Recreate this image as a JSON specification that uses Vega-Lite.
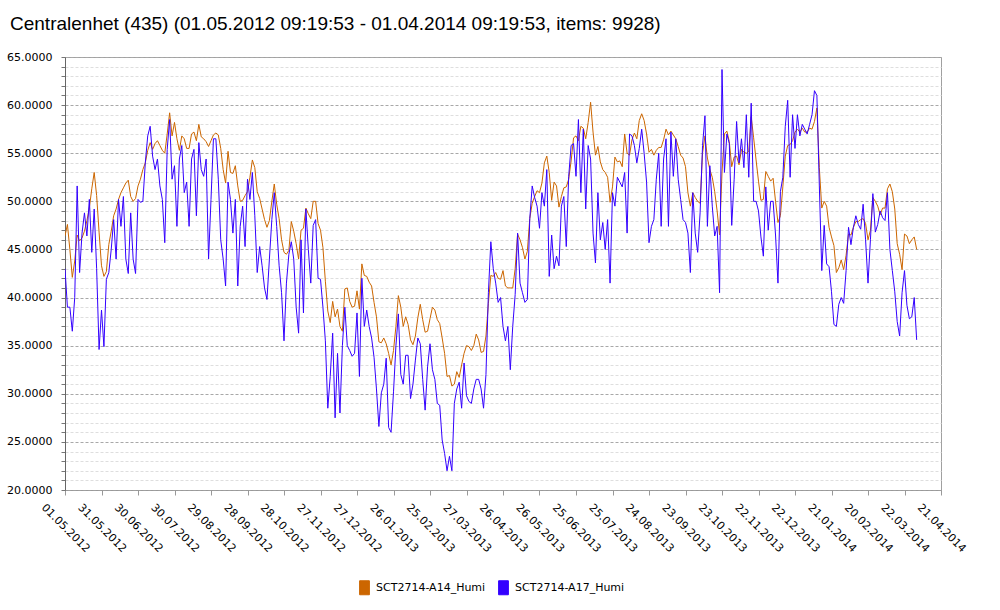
{
"$schema": "https://vega.github.io/schema/vega-lite/v6.json",
"width": 876, "height": 433,
"autosize": {"type": "none"},
"padding": {"left": 65, "top": 57, "right": 59, "bottom": 120},
"background": "#ffffff",
"title": {"text": "Centralenhet (435) (01.05.2012 09:19:53 - 01.04.2014 09:19:53, items: 9928)", "anchor": "start", "frame": "group", "font": "Liberation Sans", "fontSize": 19, "fontWeight": "normal", "color": "#000000", "dx": -55, "dy": 20, "offset": 22, "baseline": "alphabetic"},
"config": {"view": {"stroke": "#a0a0a0"}, "axis": {"labelFont": "DejaVu Sans", "labelFontSize": 11, "labelColor": "#000000"}},
"data": {"values": [
{"t":"2012-05-01","a":46.4,"b":43.0},{"t":"2012-05-03","a":47.6,"b":39.0},{"t":"2012-05-05","a":45.0,"b":39.0},{"t":"2012-05-07","a":42.1,"b":36.5},{"t":"2012-05-09","a":43.8,"b":40.0},{"t":"2012-05-11","a":46.5,"b":51.6},{"t":"2012-05-13","a":45.9,"b":42.6},{"t":"2012-05-15","a":46.2,"b":46.7},{"t":"2012-05-17","a":46.9,"b":48.8},{"t":"2012-05-19","a":48.0,"b":46.4},{"t":"2012-05-21","a":49.3,"b":50.2},{"t":"2012-05-23","a":51.3,"b":44.7},{"t":"2012-05-25","a":53.0,"b":49.2},{"t":"2012-05-27","a":50.6,"b":43.0},{"t":"2012-05-29","a":46.8,"b":34.6},{"t":"2012-05-31","a":43.3,"b":38.7},
{"t":"2012-06-02","a":42.2,"b":34.9},{"t":"2012-06-04","a":42.7,"b":41.9},{"t":"2012-06-06","a":45.5,"b":42.6},{"t":"2012-06-08","a":46.9,"b":45.0},{"t":"2012-06-10","a":48.5,"b":48.1},{"t":"2012-06-12","a":49.2,"b":44.0},{"t":"2012-06-14","a":50.2,"b":50.2},{"t":"2012-06-16","a":50.9,"b":47.4},{"t":"2012-06-18","a":51.4,"b":50.5},{"t":"2012-06-20","a":51.9,"b":44.0},{"t":"2012-06-22","a":52.2,"b":42.5},{"t":"2012-06-24","a":50.5,"b":48.8},{"t":"2012-06-26","a":50.0,"b":44.0},{"t":"2012-06-28","a":50.3,"b":42.5},{"t":"2012-06-30","a":51.6,"b":50.2},
{"t":"2012-07-02","a":52.3,"b":49.9},{"t":"2012-07-04","a":53.3,"b":50.0},{"t":"2012-07-06","a":54.0,"b":54.0},{"t":"2012-07-08","a":55.3,"b":56.8},{"t":"2012-07-10","a":56.1,"b":57.8},{"t":"2012-07-12","a":55.4,"b":54.7},{"t":"2012-07-14","a":56.0,"b":53.3},{"t":"2012-07-16","a":56.3,"b":54.4},{"t":"2012-07-18","a":55.8,"b":51.6},{"t":"2012-07-20","a":55.3,"b":50.2},{"t":"2012-07-22","a":55.0,"b":45.7},{"t":"2012-07-24","a":57.0,"b":55.4},{"t":"2012-07-26","a":59.2,"b":58.5},{"t":"2012-07-28","a":56.8,"b":52.3},{"t":"2012-07-30","a":58.2,"b":53.7},
{"t":"2012-08-01","a":56.5,"b":47.4},{"t":"2012-08-03","a":55.3,"b":54.4},{"t":"2012-08-05","a":56.8,"b":55.8},{"t":"2012-08-07","a":56.5,"b":50.9},{"t":"2012-08-09","a":55.5,"b":52.0},{"t":"2012-08-11","a":55.5,"b":47.4},{"t":"2012-08-13","a":57.0,"b":54.4},{"t":"2012-08-15","a":57.2,"b":55.4},{"t":"2012-08-17","a":56.3,"b":48.5},{"t":"2012-08-19","a":58.0,"b":56.1},{"t":"2012-08-21","a":56.7,"b":53.3},{"t":"2012-08-23","a":56.5,"b":52.6},{"t":"2012-08-25","a":56.2,"b":54.4},{"t":"2012-08-27","a":55.7,"b":44.0},{"t":"2012-08-29","a":56.3,"b":50.2},{"t":"2012-08-31","a":56.9,"b":56.5},
{"t":"2012-09-02","a":57.1,"b":56.5},{"t":"2012-09-04","a":56.9,"b":52.3},{"t":"2012-09-06","a":55.5,"b":46.0},{"t":"2012-09-08","a":53.3,"b":44.0},{"t":"2012-09-10","a":51.9,"b":41.2},{"t":"2012-09-12","a":55.2,"b":52.0},{"t":"2012-09-14","a":53.0,"b":50.2},{"t":"2012-09-16","a":52.9,"b":46.7},{"t":"2012-09-18","a":53.7,"b":50.2},{"t":"2012-09-20","a":51.6,"b":41.2},{"t":"2012-09-22","a":50.0,"b":47.4},{"t":"2012-09-24","a":50.1,"b":49.5},{"t":"2012-09-26","a":50.6,"b":45.3},{"t":"2012-09-28","a":51.0,"b":52.3},{"t":"2012-09-30","a":52.5,"b":50.2},
{"t":"2012-10-02","a":54.3,"b":53.0},{"t":"2012-10-04","a":53.5,"b":48.5},{"t":"2012-10-06","a":51.0,"b":42.6},{"t":"2012-10-08","a":50.3,"b":45.3},{"t":"2012-10-10","a":49.2,"b":43.3},{"t":"2012-10-12","a":48.1,"b":41.0},{"t":"2012-10-14","a":47.3,"b":39.8},{"t":"2012-10-16","a":48.0,"b":44.0},{"t":"2012-10-18","a":50.0,"b":48.1},{"t":"2012-10-20","a":51.8,"b":50.9},{"t":"2012-10-22","a":49.7,"b":47.4},{"t":"2012-10-24","a":48.2,"b":43.3},{"t":"2012-10-26","a":46.0,"b":40.5},{"t":"2012-10-28","a":44.7,"b":35.5},{"t":"2012-10-30","a":44.5,"b":41.5},
{"t":"2012-11-01","a":44.9,"b":44.5},{"t":"2012-11-03","a":47.9,"b":45.8},{"t":"2012-11-05","a":46.9,"b":44.0},{"t":"2012-11-07","a":45.6,"b":39.0},{"t":"2012-11-09","a":44.0,"b":36.3},{"t":"2012-11-11","a":47.0,"b":46.0},{"t":"2012-11-13","a":47.2,"b":38.4},{"t":"2012-11-15","a":49.3,"b":49.2},{"t":"2012-11-17","a":48.7,"b":45.0},{"t":"2012-11-19","a":48.2,"b":41.5},{"t":"2012-11-21","a":50.0,"b":47.5},{"t":"2012-11-23","a":50.0,"b":48.1},{"t":"2012-11-25","a":47.7,"b":42.0},{"t":"2012-11-27","a":47.0,"b":41.9},{"t":"2012-11-29","a":45.2,"b":39.0},
{"t":"2012-12-01","a":41.7,"b":35.5},{"t":"2012-12-03","a":38.6,"b":28.5},{"t":"2012-12-05","a":37.4,"b":31.8},{"t":"2012-12-07","a":39.6,"b":36.3},{"t":"2012-12-09","a":38.0,"b":27.5},{"t":"2012-12-11","a":38.8,"b":34.2},{"t":"2012-12-13","a":37.0,"b":28.0},{"t":"2012-12-15","a":36.5,"b":35.0},{"t":"2012-12-17","a":40.9,"b":39.0},{"t":"2012-12-19","a":41.0,"b":35.0},{"t":"2012-12-21","a":39.6,"b":34.5},{"t":"2012-12-23","a":39.0,"b":33.9},{"t":"2012-12-25","a":39.1,"b":34.2},{"t":"2012-12-27","a":40.7,"b":38.4},{"t":"2012-12-29","a":38.8,"b":31.8},{"t":"2012-12-31","a":43.5,"b":42.0},
{"t":"2013-01-02","a":42.3,"b":37.0},{"t":"2013-01-04","a":42.2,"b":38.7},{"t":"2013-01-06","a":41.6,"b":37.0},{"t":"2013-01-08","a":41.2,"b":35.8},{"t":"2013-01-10","a":39.5,"b":33.8},{"t":"2013-01-12","a":38.0,"b":30.5},{"t":"2013-01-14","a":35.4,"b":26.6},{"t":"2013-01-16","a":35.3,"b":30.1},{"t":"2013-01-18","a":35.8,"b":31.0},{"t":"2013-01-20","a":35.2,"b":33.7},{"t":"2013-01-22","a":34.2,"b":26.5},{"t":"2013-01-24","a":33.0,"b":26.0},{"t":"2013-01-26","a":34.5,"b":30.2},{"t":"2013-01-28","a":37.0,"b":35.0},{"t":"2013-01-30","a":40.2,"b":38.3},
{"t":"2013-02-01","a":39.0,"b":32.0},{"t":"2013-02-03","a":37.0,"b":31.0},{"t":"2013-02-05","a":38.0,"b":34.0},{"t":"2013-02-07","a":37.2,"b":34.0},{"t":"2013-02-09","a":35.6,"b":29.5},{"t":"2013-02-11","a":35.1,"b":31.0},{"t":"2013-02-13","a":36.0,"b":33.5},{"t":"2013-02-15","a":37.9,"b":35.8},{"t":"2013-02-17","a":39.3,"b":35.2},{"t":"2013-02-19","a":37.7,"b":31.5},{"t":"2013-02-21","a":36.4,"b":28.3},{"t":"2013-02-23","a":36.5,"b":32.8},{"t":"2013-02-25","a":37.8,"b":35.2},{"t":"2013-02-27","a":39.0,"b":32.5},
{"t":"2013-03-01","a":38.7,"b":31.5},{"t":"2013-03-03","a":37.7,"b":29.0},{"t":"2013-03-05","a":37.3,"b":28.8},{"t":"2013-03-07","a":35.8,"b":25.2},{"t":"2013-03-09","a":34.2,"b":23.8},{"t":"2013-03-11","a":31.8,"b":22.0},{"t":"2013-03-13","a":31.9,"b":23.5},{"t":"2013-03-15","a":30.8,"b":22.0},{"t":"2013-03-17","a":31.0,"b":29.0},{"t":"2013-03-19","a":32.3,"b":30.5},{"t":"2013-03-21","a":31.7,"b":31.2},{"t":"2013-03-23","a":33.0,"b":28.5},{"t":"2013-03-25","a":34.2,"b":33.2},{"t":"2013-03-27","a":35.0,"b":29.8},{"t":"2013-03-29","a":34.9,"b":29.2},{"t":"2013-03-31","a":34.5,"b":29.0},
{"t":"2013-04-02","a":35.0,"b":30.5},{"t":"2013-04-04","a":36.2,"b":31.5},{"t":"2013-04-06","a":35.6,"b":31.5},{"t":"2013-04-08","a":34.3,"b":30.5},{"t":"2013-04-10","a":34.4,"b":28.5},{"t":"2013-04-12","a":36.0,"b":32.0},{"t":"2013-04-14","a":39.4,"b":40.5},{"t":"2013-04-16","a":42.3,"b":45.8},{"t":"2013-04-18","a":42.2,"b":43.0},{"t":"2013-04-20","a":42.6,"b":41.5},{"t":"2013-04-22","a":42.0,"b":39.5},{"t":"2013-04-24","a":41.9,"b":40.0},{"t":"2013-04-26","a":42.8,"b":37.0},{"t":"2013-04-28","a":41.2,"b":35.5},{"t":"2013-04-30","a":41.0,"b":37.0},
{"t":"2013-05-02","a":41.0,"b":32.5},{"t":"2013-05-04","a":41.0,"b":37.0},{"t":"2013-05-06","a":43.0,"b":40.3},{"t":"2013-05-08","a":46.6,"b":46.7},{"t":"2013-05-10","a":46.0,"b":41.5},{"t":"2013-05-12","a":45.2,"b":40.5},{"t":"2013-05-14","a":44.0,"b":39.5},{"t":"2013-05-16","a":44.8,"b":39.8},{"t":"2013-05-18","a":48.2,"b":48.2},{"t":"2013-05-20","a":49.8,"b":51.6},{"t":"2013-05-22","a":50.5,"b":50.4},{"t":"2013-05-24","a":51.1,"b":49.5},{"t":"2013-05-26","a":50.9,"b":47.2},{"t":"2013-05-28","a":51.9,"b":50.9},{"t":"2013-05-30","a":54.0,"b":49.5},
{"t":"2013-06-01","a":54.7,"b":53.3},{"t":"2013-06-03","a":53.0,"b":42.2},{"t":"2013-06-05","a":50.1,"b":46.5},{"t":"2013-06-07","a":52.0,"b":43.0},{"t":"2013-06-09","a":51.6,"b":44.3},{"t":"2013-06-11","a":49.4,"b":43.3},{"t":"2013-06-13","a":50.5,"b":49.5},{"t":"2013-06-15","a":51.4,"b":50.5},{"t":"2013-06-17","a":51.5,"b":45.3},{"t":"2013-06-19","a":52.3,"b":52.6},{"t":"2013-06-21","a":54.2,"b":55.8},{"t":"2013-06-23","a":56.6,"b":56.0},{"t":"2013-06-25","a":56.8,"b":52.6},{"t":"2013-06-27","a":56.3,"b":58.5},{"t":"2013-06-29","a":57.8,"b":50.9},
{"t":"2013-07-01","a":57.6,"b":57.5},{"t":"2013-07-03","a":56.5,"b":49.2},{"t":"2013-07-05","a":58.2,"b":55.8},{"t":"2013-07-07","a":60.3,"b":54.4},{"t":"2013-07-09","a":57.2,"b":46.7},{"t":"2013-07-11","a":54.8,"b":43.6},{"t":"2013-07-13","a":55.7,"b":50.9},{"t":"2013-07-15","a":54.1,"b":46.0},{"t":"2013-07-17","a":53.3,"b":47.8},{"t":"2013-07-19","a":53.0,"b":45.0},{"t":"2013-07-21","a":52.5,"b":48.1},{"t":"2013-07-23","a":49.9,"b":41.5},{"t":"2013-07-25","a":51.5,"b":50.9},{"t":"2013-07-27","a":54.6,"b":49.5},{"t":"2013-07-29","a":54.1,"b":52.5},{"t":"2013-07-31","a":54.2,"b":52.0},
{"t":"2013-08-02","a":53.6,"b":51.5},{"t":"2013-08-04","a":57.0,"b":53.0},{"t":"2013-08-06","a":55.0,"b":46.7},{"t":"2013-08-08","a":54.8,"b":57.0},{"t":"2013-08-10","a":56.4,"b":56.8},{"t":"2013-08-12","a":57.1,"b":55.8},{"t":"2013-08-14","a":56.5,"b":54.0},{"t":"2013-08-16","a":58.4,"b":55.5},{"t":"2013-08-18","a":59.1,"b":57.5},{"t":"2013-08-20","a":58.4,"b":55.0},{"t":"2013-08-22","a":57.0,"b":52.0},{"t":"2013-08-24","a":55.1,"b":45.7},{"t":"2013-08-26","a":55.4,"b":47.4},{"t":"2013-08-28","a":54.8,"b":48.1},{"t":"2013-08-30","a":55.3,"b":52.3},
{"t":"2013-09-01","a":55.6,"b":55.0},{"t":"2013-09-03","a":55.6,"b":47.4},{"t":"2013-09-05","a":56.4,"b":54.4},{"t":"2013-09-07","a":57.5,"b":56.5},{"t":"2013-09-09","a":56.9,"b":47.4},{"t":"2013-09-11","a":57.3,"b":57.2},{"t":"2013-09-13","a":56.9,"b":52.6},{"t":"2013-09-15","a":56.5,"b":56.5},{"t":"2013-09-17","a":55.7,"b":52.3},{"t":"2013-09-19","a":54.8,"b":50.2},{"t":"2013-09-21","a":54.5,"b":48.1},{"t":"2013-09-23","a":53.6,"b":47.8},{"t":"2013-09-25","a":50.9,"b":46.7},{"t":"2013-09-27","a":49.5,"b":42.6},{"t":"2013-09-29","a":50.9,"b":50.9},
{"t":"2013-10-01","a":50.4,"b":46.7},{"t":"2013-10-03","a":50.0,"b":44.7},{"t":"2013-10-05","a":49.8,"b":48.8},{"t":"2013-10-07","a":55.0,"b":55.8},{"t":"2013-10-09","a":56.8,"b":58.9},{"t":"2013-10-11","a":54.5,"b":47.4},{"t":"2013-10-13","a":53.3,"b":53.7},{"t":"2013-10-15","a":52.5,"b":49.5},{"t":"2013-10-17","a":51.0,"b":46.4},{"t":"2013-10-19","a":49.0,"b":47.4},{"t":"2013-10-21","a":46.5,"b":40.5},{"t":"2013-10-23","a":53.0,"b":63.7},{"t":"2013-10-25","a":57.0,"b":53.0},{"t":"2013-10-27","a":57.3,"b":57.0},{"t":"2013-10-29","a":56.2,"b":56.0},{"t":"2013-10-31","a":53.6,"b":47.5},
{"t":"2013-11-02","a":54.6,"b":52.3},{"t":"2013-11-04","a":54.7,"b":58.3},{"t":"2013-11-06","a":53.8,"b":54.0},{"t":"2013-11-08","a":55.4,"b":56.5},{"t":"2013-11-10","a":55.1,"b":53.5},{"t":"2013-11-12","a":55.0,"b":59.0},{"t":"2013-11-14","a":55.2,"b":52.5},{"t":"2013-11-16","a":58.8,"b":60.2},{"t":"2013-11-18","a":56.6,"b":50.0},{"t":"2013-11-20","a":54.3,"b":50.0},{"t":"2013-11-22","a":52.1,"b":49.0},{"t":"2013-11-24","a":50.1,"b":46.3},{"t":"2013-11-26","a":50.2,"b":44.3},{"t":"2013-11-28","a":53.1,"b":51.5},{"t":"2013-11-30","a":52.6,"b":47.0},
{"t":"2013-12-02","a":52.1,"b":50.0},{"t":"2013-12-04","a":52.4,"b":50.0},{"t":"2013-12-06","a":50.0,"b":46.5},{"t":"2013-12-08","a":47.8,"b":41.5},{"t":"2013-12-10","a":48.5,"b":51.0},{"t":"2013-12-12","a":51.5,"b":52.5},{"t":"2013-12-14","a":54.7,"b":57.8},{"t":"2013-12-16","a":55.8,"b":60.5},{"t":"2013-12-18","a":55.9,"b":52.5},{"t":"2013-12-20","a":56.3,"b":59.0},{"t":"2013-12-22","a":57.2,"b":55.5},{"t":"2013-12-24","a":57.5,"b":59.0},{"t":"2013-12-26","a":57.2,"b":56.8},{"t":"2013-12-28","a":57.6,"b":58.0},{"t":"2013-12-30","a":57.2,"b":57.5},
{"t":"2014-01-01","a":57.2,"b":57.0},{"t":"2014-01-03","a":57.6,"b":58.0},{"t":"2014-01-05","a":57.5,"b":59.0},{"t":"2014-01-07","a":58.3,"b":61.5},{"t":"2014-01-09","a":59.7,"b":61.0},{"t":"2014-01-11","a":53.5,"b":51.6},{"t":"2014-01-13","a":49.3,"b":42.8},{"t":"2014-01-15","a":50.0,"b":47.5},{"t":"2014-01-17","a":49.5,"b":43.5},{"t":"2014-01-19","a":47.3,"b":43.2},{"t":"2014-01-21","a":46.3,"b":40.6},{"t":"2014-01-23","a":45.4,"b":37.2},{"t":"2014-01-25","a":42.6,"b":37.0},{"t":"2014-01-27","a":43.1,"b":39.3},{"t":"2014-01-29","a":43.9,"b":40.0},{"t":"2014-01-31","a":42.9,"b":39.4},
{"t":"2014-02-02","a":44.4,"b":42.8},{"t":"2014-02-04","a":46.6,"b":47.3},{"t":"2014-02-06","a":46.5,"b":45.5},{"t":"2014-02-08","a":47.3,"b":47.3},{"t":"2014-02-10","a":47.9,"b":48.5},{"t":"2014-02-12","a":47.9,"b":47.6},{"t":"2014-02-14","a":48.1,"b":47.1},{"t":"2014-02-16","a":48.2,"b":49.7},{"t":"2014-02-18","a":47.7,"b":46.0},{"t":"2014-02-20","a":46.0,"b":41.5},{"t":"2014-02-22","a":47.0,"b":46.0},{"t":"2014-02-24","a":50.4,"b":50.8},{"t":"2014-02-26","a":50.0,"b":46.8},{"t":"2014-02-28","a":49.5,"b":47.6},
{"t":"2014-03-02","a":48.6,"b":49.0},{"t":"2014-03-04","a":49.3,"b":48.3},{"t":"2014-03-06","a":49.3,"b":48.0},{"t":"2014-03-08","a":51.3,"b":50.9},{"t":"2014-03-10","a":51.8,"b":45.0},{"t":"2014-03-12","a":51.0,"b":42.8},{"t":"2014-03-14","a":49.2,"b":40.6},{"t":"2014-03-16","a":45.6,"b":37.5},{"t":"2014-03-18","a":44.5,"b":36.0},{"t":"2014-03-20","a":42.9,"b":40.5},{"t":"2014-03-22","a":46.6,"b":42.8},{"t":"2014-03-24","a":46.4,"b":39.2},{"t":"2014-03-26","a":45.6,"b":37.8},{"t":"2014-03-28","a":46.0,"b":38.0},{"t":"2014-03-30","a":46.3,"b":40.0},{"t":"2014-04-01","a":45.0,"b":35.6}
]},
"transform": [{"fold": ["a", "b"], "as": ["s", "v"]}],
"mark": {"type": "line", "strokeWidth": 1, "clip": true},
"encoding": {
"x": {"field": "t", "type": "temporal", "title": null,
 "scale": {"type": "utc", "domain": [{"year": 2012, "month": 5, "date": 1, "utc": true}, {"year": 2014, "month": 4, "date": 21, "utc": true}]},
 "axis": {"values": [
  {"year":2012,"month":5,"date":1,"utc":true},{"year":2012,"month":5,"date":31,"utc":true},{"year":2012,"month":6,"date":30,"utc":true},{"year":2012,"month":7,"date":30,"utc":true},{"year":2012,"month":8,"date":29,"utc":true},{"year":2012,"month":9,"date":28,"utc":true},{"year":2012,"month":10,"date":28,"utc":true},{"year":2012,"month":11,"date":27,"utc":true},{"year":2012,"month":12,"date":27,"utc":true},{"year":2013,"month":1,"date":26,"utc":true},{"year":2013,"month":2,"date":25,"utc":true},{"year":2013,"month":3,"date":27,"utc":true},{"year":2013,"month":4,"date":26,"utc":true},{"year":2013,"month":5,"date":26,"utc":true},{"year":2013,"month":6,"date":25,"utc":true},{"year":2013,"month":7,"date":25,"utc":true},{"year":2013,"month":8,"date":24,"utc":true},{"year":2013,"month":9,"date":23,"utc":true},{"year":2013,"month":10,"date":23,"utc":true},{"year":2013,"month":11,"date":22,"utc":true},{"year":2013,"month":12,"date":22,"utc":true},{"year":2014,"month":1,"date":21,"utc":true},{"year":2014,"month":2,"date":20,"utc":true},{"year":2014,"month":3,"date":22,"utc":true},{"year":2014,"month":4,"date":21,"utc":true}],
  "labelExpr": "utcFormat(datum.value, '%d.%m.%Y')",
  "labelAngle": 45, "labelAlign": "center", "labelBaseline": "middle", "labelPadding": 33,
  "labelOverlap": false, "labelFlush": false, "labelBound": false,
  "grid": false, "tickSize": 5, "tickColor": "#999999", "domainColor": "#999999", "domainDash": [3, 2]}},
"y": {"field": "v", "type": "quantitative", "title": null,
 "scale": {"domain": [20, 65], "nice": false, "zero": false},
 "axis": {"values": [20,21,22,23,24,25,26,27,28,29,30,31,32,33,34,35,36,37,38,39,40,41,42,43,44,45,46,47,48,49,50,51,52,53,54,55,56,57,58,59,60,61,62,63,64,65],
  "labelExpr": "datum.value % 5 === 0 ? format(datum.value, '.4f') : ''",
  "labelOverlap": false, "labelFlush": false, "labelPadding": 9,
  "grid": true, "gridDash": [3, 2],
  "gridColor": {"condition": {"test": "datum.value % 5 === 0", "value": "#a8a8a8"}, "value": "#dedede"},
  "tickSize": 4, "tickColor": "#777777", "domainColor": "#666666"}},
"color": {"field": "s", "type": "nominal",
 "scale": {"domain": ["a", "b"], "range": ["#cc6600", "#3300ff"]},
 "legend": {"orient": "none", "legendX": 292, "legendY": 523, "direction": "horizontal", "title": null,
  "labelExpr": "datum.value === 'a' ? 'SCT2714-A14_Humi' : 'SCT2714-A17_Humi'",
  "labelFont": "DejaVu Sans", "labelFontSize": 11, "labelColor": "#000000",
  "symbolType": "M-0.7,-1H0.7V1H-0.7Z", "symbolSize": 196, "symbolStrokeWidth": 1,
  "labelOffset": 4, "columnPadding": 10, "padding": 0,
  "encode": {"symbols": {"update": {"fill": {"scale": "color", "field": "value"}, "stroke": {"value": "#d8d8d8"}, "opacity": {"value": 1}}}}}}
}
}
